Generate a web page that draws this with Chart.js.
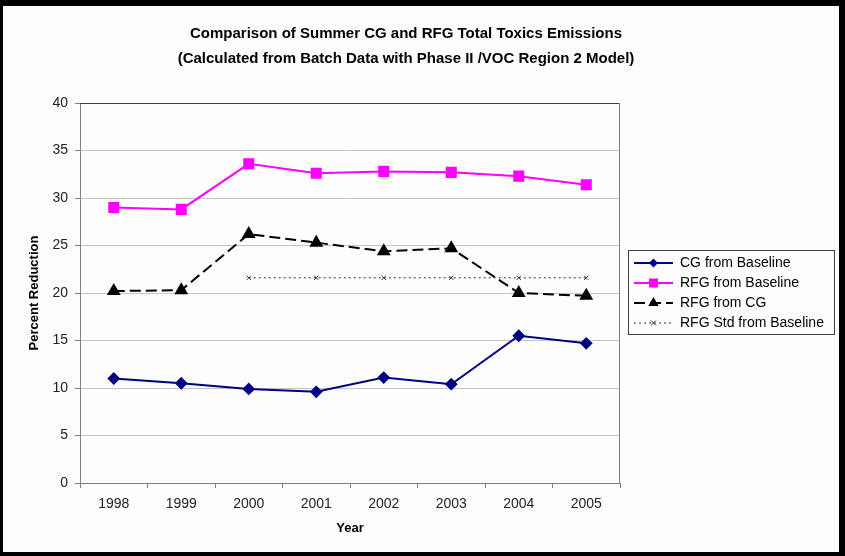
<!DOCTYPE html>
<html>
<head>
<meta charset="utf-8">
<script src="https://cdn.jsdelivr.net/npm/chart.js@4/dist/chart.umd.min.js"></script>
<style>
  html, body { margin: 0; padding: 0; background: #fff; }
  #frame {
    box-sizing: border-box;
    width: 845px; height: 556px;
    border-style: solid; border-color: #000;
    border-width: 6px 6px 4px 3px;
    background: #fdfdfd;
  }
  canvas { display: block; }
</style>
</head>
<body>
<div id="frame"><canvas id="myChart" width="836" height="546"></canvas></div>
<script>
// categories and series
var years = ['1998', '1999', '2000', '2001', '2002', '2003', '2004', '2005'];
var cgFromBaseline  = [11.0, 10.5, 9.9, 9.6, 11.1, 10.4, 15.5, 14.7];
var rfgFromBaseline = [29.0, 28.8, 33.6, 32.6, 32.8, 32.7, 32.3, 31.4];
var rfgFromCG       = [20.2, 20.3, 26.2, 25.3, 24.4, 24.7, 20.0, 19.7];
var rfgStdBaseline  = [null, null, 21.6, 21.6, 21.6, 21.6, 21.6, 21.6];
var yTicks = [0, 5, 10, 15, 20, 25, 30, 35, 40];

var titleLines = [
  'Comparison of Summer CG and RFG Total Toxics Emissions',
  '(Calculated from Batch Data with Phase II /VOC Region 2 Model)'
];

var FONT = "'Liberation Sans', Arial, sans-serif";
var LEGEND_W = 219;  // room kept on the right for the legend

// little canvas used as the legend symbol: a line with the marker in the middle
function makeIcon(color, dash, lineW, shape, size) {
  var c = document.createElement('canvas');
  c.width = 47; c.height = 14;
  var ctx = c.getContext('2d');
  ctx.strokeStyle = color;
  ctx.fillStyle = color;
  ctx.lineWidth = lineW;
  ctx.setLineDash(dash);
  ctx.beginPath();
  ctx.moveTo(8, 7); ctx.lineTo(47, 7);
  ctx.stroke();
  ctx.setLineDash([]);
  var x = 27.5, y = 7;
  ctx.beginPath();
  if (shape == 'diamond') {
    ctx.moveTo(x - size, y); ctx.lineTo(x, y - size); ctx.lineTo(x + size, y); ctx.lineTo(x, y + size);
    ctx.closePath(); ctx.fill();
  } else if (shape == 'square') {
    ctx.rect(x - size, y - size, size * 2, size * 2); ctx.fill();
  } else if (shape == 'triangle') {
    ctx.moveTo(x, y - size); ctx.lineTo(x + size * 0.87, y + size * 0.5); ctx.lineTo(x - size * 0.87, y + size * 0.5);
    ctx.closePath(); ctx.fill();
  } else {
    ctx.lineWidth = 1;
    ctx.moveTo(x - size, y - size); ctx.lineTo(x + size, y + size);
    ctx.moveTo(x + size, y - size); ctx.lineTo(x - size, y + size);
    ctx.stroke();
  }
  return c;
} // END makeIcon

var icons = [
  makeIcon('#000080', [], 2, 'diamond', 4.5),
  makeIcon('#ff00ff', [], 2, 'square', 4.5),
  makeIcon('#000000', [11, 5], 2, 'triangle', 6),
  makeIcon('#333333', [2, 3], 1, 'cross', 2.5)
];

// legend measures itself a bit short and then clips the text, so force its width
var legendWidthPlugin = {
  id: 'legendWidth',
  afterInit: function (chart) {
    var lg = chart.legend;
    if (!lg) return;
    var fit = lg.fit;
    lg.fit = function () {
      fit.call(this);
      this.width = LEGEND_W;
    };
  }
};

// title drawn by hand so it can sit where excel put it
var titlePlugin = {
  id: 'excelTitle',
  afterDraw: function (chart) {
    var ctx = chart.ctx;
    ctx.save();
    ctx.fillStyle = '#000';
    ctx.font = 'bold 15px ' + FONT;
    ctx.textAlign = 'center';
    ctx.textBaseline = 'middle';
    ctx.fillText(titleLines[0], 403, 28);
    ctx.fillText(titleLines[1], 403, 53);
    ctx.restore();
  }
};

// plot area top/right edges and the box round the legend
var framePlugin = {
  id: 'excelFrame',
  afterDraw: function (chart) {
    var ctx = chart.ctx;
    var a = chart.chartArea;
    ctx.save();
    ctx.lineWidth = 1;
    ctx.strokeStyle = '#404040';
    ctx.beginPath();
    ctx.moveTo(a.left, a.top + 0.5); ctx.lineTo(a.right, a.top + 0.5);
    ctx.stroke();
    ctx.strokeStyle = '#808080';
    ctx.beginPath();
    ctx.moveTo(a.right - 0.5, a.top); ctx.lineTo(a.right - 0.5, a.bottom);
    ctx.stroke();

    var boxes = chart.legend.legendHitBoxes;
    if (boxes && boxes.length) {
      var t = Infinity, b = -Infinity;
      boxes.forEach(function (h) {
        t = Math.min(t, h.top);
        b = Math.max(b, h.top + h.height);
      });
      var left = Math.round(a.right + 8) + 0.5;
      var top = Math.round(t - 6) + 0.5;
      ctx.strokeStyle = '#404040';
      ctx.strokeRect(left, top, Math.round(chart.width - 5 - left), Math.round(b - t + 10));
    }
    ctx.restore();
  }
};

var chartdata = {
  labels: years,
  datasets: [
    {
      label: 'CG from Baseline',
      data: cgFromBaseline,
      borderColor: '#000080', backgroundColor: '#000080',
      borderWidth: 2, pointStyle: 'rectRot', pointRadius: 5
    },
    {
      label: 'RFG from Baseline',
      data: rfgFromBaseline,
      borderColor: '#ff00ff', backgroundColor: '#ff00ff',
      borderWidth: 2, pointStyle: 'rect', pointRadius: 6.4
    },
    {
      label: 'RFG from CG',
      data: rfgFromCG,
      borderColor: '#000000', backgroundColor: '#000000',
      borderWidth: 2, borderDash: [11, 5], pointStyle: 'triangle', pointRadius: 6
    },
    {
      label: 'RFG Std from Baseline',
      data: rfgStdBaseline,
      borderColor: '#333333', backgroundColor: '#333333',
      borderWidth: 1, borderDash: [2, 3], pointStyle: 'crossRot', pointRadius: 3,
      pointBorderWidth: 1
    }
  ]
};

var setup = {
  type: 'line',
  data: chartdata,
  options: {
    responsive: false,
    animation: false,
    events: [],
    layout: { padding: { left: 18, top: 97, right: 0, bottom: 14 } },
    elements: { line: { tension: 0 } },
    plugins: {
      title: { display: false },
      tooltip: { enabled: false },
      legend: {
        position: 'right',
        fullSize: false,
        labels: {
          usePointStyle: true,
          pointStyleWidth: 47,
          padding: 6,
          color: '#000',
          font: { family: FONT, size: 14, lineHeight: 1.15 },
          generateLabels: function (chart) {
            return chart.data.datasets.map(function (ds, i) {
              return {
                text: ds.label, pointStyle: icons[i], datasetIndex: i,
                fillStyle: ds.backgroundColor, strokeStyle: ds.borderColor,
                lineWidth: 0, hidden: false, fontColor: '#000'
              };
            });
          }
        }
      }
    },
    scales: {
      x: {
        offset: true,
        afterFit: function (s) { s.height = 55; },
        grid: { offset: true, drawOnChartArea: false, tickLength: 5, tickColor: '#808080' },
        border: { color: '#808080', width: 1 },
        ticks: { color: '#222', padding: 8, font: { family: FONT, size: 14 } },
        title: {
          display: true, text: 'Year', color: '#000',
          padding: { top: 0, bottom: 2 },
          font: { family: FONT, size: 13, weight: 'bold' }
        }
      },
      y: {
        min: 0, max: 40,
        afterFit: function (s) { s.width = 59; },
        afterBuildTicks: function (s) { s.ticks = yTicks.map(function (v) { return { value: v }; }); },
        grid: { color: '#c4c4c4', tickLength: 5, tickColor: '#808080' },
        border: { color: '#808080', width: 1 },
        ticks: { color: '#222', padding: 7, font: { family: FONT, size: 14 } },
        title: {
          display: true, text: 'Percent Reduction', color: '#000',
          padding: { top: 6, bottom: 0 },
          font: { family: FONT, size: 13, weight: 'bold' }
        }
      }
    }
  },
  plugins: [legendWidthPlugin, titlePlugin, framePlugin]
};

var chart = new Chart(document.getElementById('myChart'), setup);
</script>
</body>
</html>
